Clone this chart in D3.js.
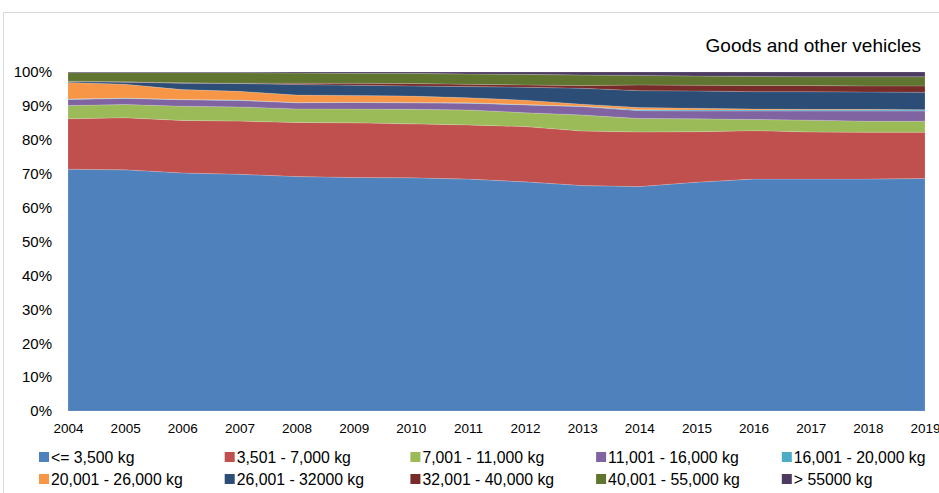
<!DOCTYPE html>
<html lang="en">
<head>
	<meta charset="utf-8">
	<script src="https://d3js.org/d3.v7.min.js"></script>
<style>
  body { margin: 0; background: #fff; }
  text { font-family: Arial, "Liberation Sans", sans-serif; fill: #000; }
</style>
</head>
<body>
<div id="chart"></div>
<script>
var width = 939,
    height = 493;

// years on the x axis
var years = [2004, 2005, 2006, 2007, 2008, 2009, 2010, 2011, 2012, 2013, 2014, 2015, 2016, 2017, 2018, 2019];

// share of goods vehicles by weight class (%)
var upTo3500    = [71.4, 71.2, 70.3, 69.9, 69.3, 68.9, 68.8, 68.4, 67.6, 66.5, 66.2, 67.5, 68.4, 68.4, 68.4, 68.6];
var w3501_7000  = [14.9, 15.4, 15.5, 15.7, 16.0, 16.1, 15.9, 16.0, 16.3, 16.1, 16.1, 14.9, 14.3, 13.9, 13.8, 13.6];
var w7001_11000 = [3.9, 3.9, 4.2, 4.2, 4.0, 4.1, 4.3, 4.4, 4.1, 4.7, 4.0, 3.8, 3.3, 3.5, 3.3, 3.3];
var w11001_16000 = [1.8, 1.8, 1.9, 1.9, 1.8, 1.9, 1.9, 2.0, 2.3, 2.5, 2.3, 2.3, 2.5, 2.7, 3.0, 3.0];
var w16001_20000 = [0.1, 0.1, 0.1, 0.1, 0.1, 0.1, 0.1, 0.1, 0.1, 0.1, 0.3, 0.3, 0.3, 0.3, 0.3, 0.3];
var w20001_26000 = [4.9, 4.1, 2.9, 2.6, 2.2, 2.0, 1.9, 1.5, 1.3, 0.6, 0.6, 0.5, 0.3, 0.2, 0.2, 0.1];
var w26001_32000 = [0.3, 0.6, 1.9, 2.3, 3.1, 3.0, 3.0, 3.3, 3.8, 4.7, 5.0, 5.1, 5.1, 5.2, 5.1, 5.1];
var w32001_40000 = [0.1, 0.1, 0.1, 0.1, 0.4, 0.6, 0.7, 0.7, 0.7, 0.8, 1.7, 1.7, 1.8, 1.8, 1.8, 1.9];
var w40001_55000 = [2.5, 2.7, 3.0, 3.1, 3.0, 2.9, 3.0, 3.0, 3.1, 3.1, 2.8, 2.7, 2.7, 2.6, 2.7, 2.7];
var over55000   = [0.2, 0.2, 0.2, 0.2, 0.3, 0.4, 0.4, 0.6, 0.7, 0.9, 1.0, 1.2, 1.3, 1.4, 1.4, 1.4];

var seriesNames = ["<= 3,500 kg", "3,501 - 7,000 kg", "7,001 - 11,000 kg", "11,001 - 16,000 kg", "16,001 - 20,000 kg",
                   "20,001 - 26,000 kg", "26,001 - 32000 kg", "32,001 - 40,000 kg", "40,001 - 55,000 kg", "> 55000 kg"];
var seriesValues = [upTo3500, w3501_7000, w7001_11000, w11001_16000, w16001_20000,
                    w20001_26000, w26001_32000, w32001_40000, w40001_55000, over55000];
var seriesColors = ["#4F81BD", "#C0504D", "#9BBB59", "#8064A2", "#4BACC6",
                    "#F79646", "#2C4D75", "#772C2A", "#5F7530", "#4D3B62"];

var yTicks = [0, 0.1, 0.2, 0.3, 0.4, 0.5, 0.6, 0.7, 0.8, 0.9, 1];

var title = "Goods and other vehicles";

// table for d3.stack
var table = years.map(function(y, i) {
  var row = { year: y };
  seriesNames.forEach(function(n, k) { row[n] = seriesValues[k][i]; });
  return row;
});

var svg = d3.select("#chart")
    .append("svg")
    .attr("width", width)
    .attr("height", height);

// outer frame
svg.append("path")
    .attr("d", "M3.5," + height + "V12.5H" + width)
    .attr("fill", "none")
    .attr("stroke", "#d9d9d9")
    .attr("stroke-width", 1);

svg.append("text")
    .attr("x", 921)
    .attr("y", 52)
    .attr("text-anchor", "end")
    .style("font-size", "19px")
    .text(title);

var x = d3.scaleLinear()
    .domain([years[0], years[years.length - 1]])
    .range([68, 925]);

var y = d3.scaleLinear()
    .domain([0, 1])
    .range([411, 72]);

var stack = d3.stack()
    .keys(seriesNames)
    .offset(d3.stackOffsetExpand);

var layers = stack(table);

var area = d3.area()
    .x(function(d) { return x(d.data.year); })
    .y0(function(d) { return y(d[0]); })
    .y1(function(d) { return y(d[1]); });

svg.append("g")
  .selectAll("path")
  .data(layers)
  .enter().append("path")
    .attr("d", area)
    .attr("fill", function(d, i) { return seriesColors[i]; })
    .attr("stroke", "#ffffff")
    .attr("stroke-opacity", 0.25)
    .attr("stroke-width", 0.6);

// y axis labels
var yAxis = d3.axisLeft(y)
    .tickValues(yTicks)
    .tickFormat(d3.format(".0%"))
    .tickSize(0)
    .tickPadding(16);

svg.append("g")
    .attr("transform", "translate(68,0)")
    .call(yAxis)
    .call(function(g) { g.select(".domain").remove(); })
    .selectAll("text")
    .style("font-size", "15px")
    .style("font-family", "Arial, 'Liberation Sans', sans-serif")
    .attr("fill", "#000");

// x axis labels
var xAxis = d3.axisBottom(x)
    .tickValues(years)
    .tickFormat(d3.format("d"))
    .tickSize(0)
    .tickPadding(12);

svg.append("g")
    .attr("transform", "translate(0,411)")
    .call(xAxis)
    .call(function(g) { g.select(".domain").remove(); })
    .selectAll("text")
    .style("font-size", "13.5px")
    .style("font-family", "Arial, 'Liberation Sans', sans-serif")
    .attr("fill", "#000");

// legend, two rows of five
var legend = svg.append("g")
  .selectAll("g")
  .data(seriesNames)
  .enter().append("g")
    .attr("transform", function(d, i) {
      return "translate(" + (39 + (i % 5) * 185.7) + "," + (457 + Math.floor(i / 5) * 22) + ")";
    });

legend.append("rect")
    .attr("x", 0)
    .attr("y", -5)
    .attr("width", 10)
    .attr("height", 10)
    .attr("fill", function(d, i) { return seriesColors[i]; });

legend.append("text")
    .attr("x", 12)
    .attr("y", 6)
    .style("font-size", "15.8px")
    .text(function(d) { return d; });
</script>
</body>
</html>
